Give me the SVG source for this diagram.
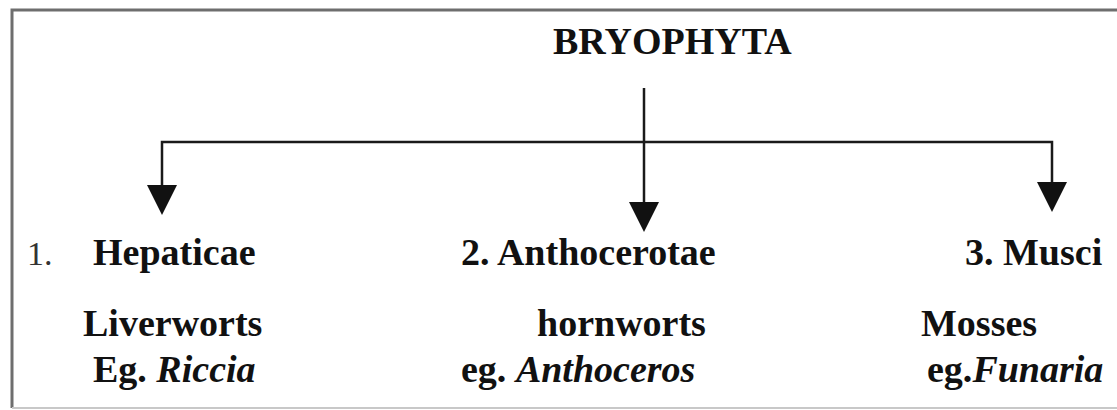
<svg xmlns="http://www.w3.org/2000/svg" width="1117" height="410" viewBox="0 0 1117 410">
<style>
.t{font-family:"Liberation Serif","Times New Roman",serif;font-size:38px;font-weight:bold;fill:#111}
.i{font-style:italic}
.n{font-family:"Liberation Serif","Times New Roman",serif;font-size:34px;fill:#333}
.c{stroke:#1a1a1a;stroke-width:2.5;fill:none}
</style>
<defs>
<marker id="ah" markerUnits="userSpaceOnUse" markerWidth="30" markerHeight="31" refX="15" refY="30" orient="auto-start-reverse" viewBox="0 0 30 31">
<path d="M0,0 L30,0 L15,30 Z" fill="#111" transform="rotate(0)"/>
</marker>
</defs>
<rect width="1117" height="410" fill="#fff"/>
<g id="frame">
<path d="M12,408 L12,10 L1120,10" fill="none" stroke="#6e6e6e" stroke-width="3"/>
<path d="M12,408 L1117,408" fill="none" stroke="#c8c8c8" stroke-width="2"/>
</g>
<g id="connectors">
<line class="c" x1="644" y1="88" x2="644" y2="202"/>
<path d="M629,202 L659,202 L644,232 Z" fill="#111"/>
<path class="c" d="M162,185 L162,142 L1052,142 L1052,182"/>
<path d="M147,185 L177,185 L162,215 Z" fill="#111"/>
<path d="M1037,182 L1067,182 L1052,212 Z" fill="#111"/>
</g>
<g id="root"><text class="t" x="553" y="54">BRYOPHYTA</text></g>
<g id="hepaticae">
<text class="n" x="27" y="265">1.</text>
<text class="t" x="93" y="265">Hepaticae</text>
<text class="t" x="83" y="336">Liverworts</text>
<text class="t" x="93" y="382">Eg. <tspan class="i">Riccia</tspan></text>
</g>
<g id="anthocerotae">
<text class="t" x="461" y="265">2. Anthocerotae</text>
<text class="t" x="537" y="336">hornworts</text>
<text class="t" x="461" y="382">eg. <tspan class="i">Anthoceros</tspan></text>
</g>
<g id="musci">
<text class="t" x="965" y="265">3. Musci</text>
<text class="t" x="921" y="336">Mosses</text>
<text class="t" x="927" y="382">eg.<tspan class="i">Funaria</tspan></text>
</g>
</svg>
